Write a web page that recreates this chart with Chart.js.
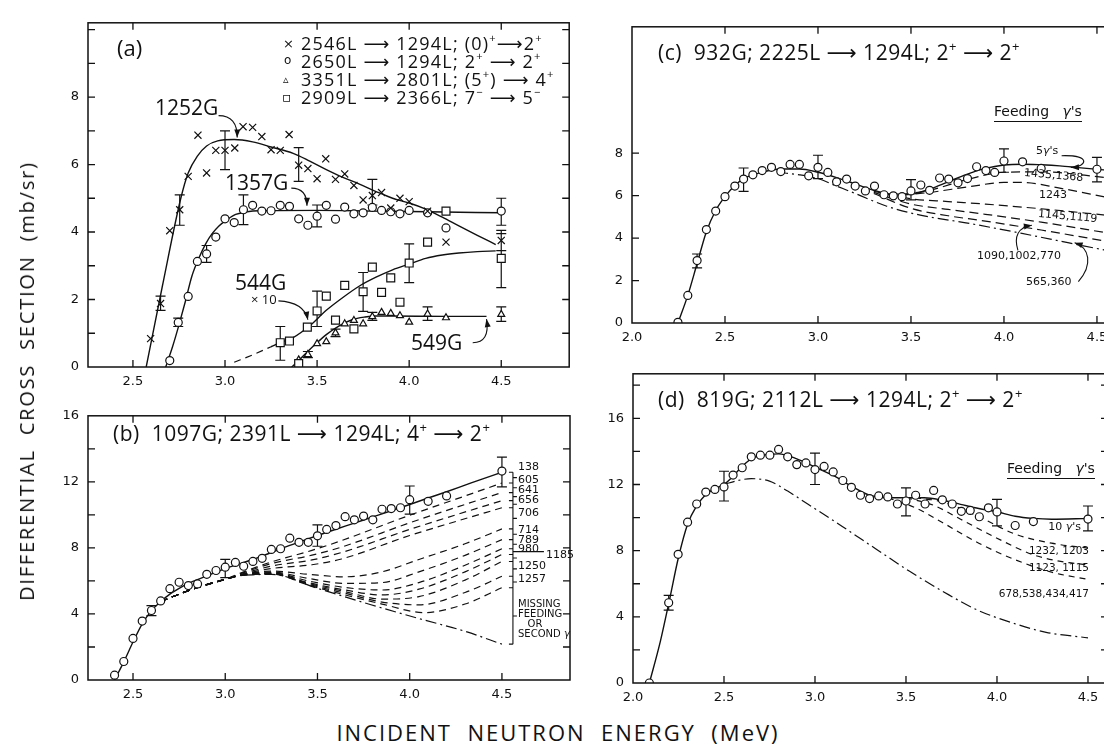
<!DOCTYPE html>
<html>
<head>
<meta charset="utf-8">
<script src="https://cdn.jsdelivr.net/npm/chart.js@4.4.0/dist/chart.umd.min.js"></script>
<style>
body{margin:0;width:1104px;height:744px;overflow:hidden;background:#fff;position:relative;font-family:"DejaVu Sans",sans-serif;color:#111}
canvas{position:absolute}
.t{position:absolute;white-space:nowrap;line-height:1;transform:translateY(-50%)}
.t sup{font-size:62%;vertical-align:top;position:relative;top:-0.15em}
.ttl{font-family:"Open Sans","DejaVu Sans",sans-serif}
.r{transform:translate(-100%,-50%)}
</style>
</head>
<body>
<script>
const INK = "#111";

// ---- panel (a) : measured points ----
const aCross = [[2.596,0.84],[2.65,1.88],[2.70,4.04],[2.754,4.66],[2.80,5.65],[2.853,6.87],[2.90,5.75],[2.95,6.42],[3.00,6.42],[3.053,6.49],[3.098,7.12],[3.15,7.10],[3.20,6.83],[3.25,6.44],[3.30,6.42],[3.348,6.89],[3.40,5.98],[3.45,5.88],[3.50,5.58],[3.547,6.17],[3.60,5.56],[3.65,5.72],[3.70,5.38],[3.75,4.95],[3.80,5.08],[3.85,5.17],[3.90,4.71],[3.95,5.00],[4.00,4.90],[4.10,4.62],[4.20,3.70],[4.50,3.75]];
const aCircle = [[2.70,0.19],[2.746,1.32],[2.80,2.09],[2.85,3.13],[2.90,3.35],[2.95,3.85],[3.00,4.39],[3.05,4.28],[3.10,4.66],[3.15,4.79],[3.20,4.62],[3.25,4.63],[3.30,4.79],[3.35,4.76],[3.40,4.39],[3.45,4.20],[3.50,4.47],[3.55,4.79],[3.60,4.38],[3.65,4.74],[3.70,4.54],[3.75,4.57],[3.80,4.73],[3.85,4.64],[3.90,4.60],[3.95,4.54],[4.00,4.64],[4.10,4.57],[4.20,4.12],[4.50,4.62]];
const aSquare = [[3.30,0.72],[3.35,0.77],[3.40,0.10],[3.447,1.18],[3.50,1.66],[3.55,2.10],[3.60,1.39],[3.65,2.42],[3.70,1.13],[3.75,2.23],[3.80,2.96],[3.85,2.21],[3.90,2.64],[3.95,1.92],[4.00,3.08],[4.10,3.70],[4.20,4.62],[4.50,3.22]];
const aTri = [[3.40,0.21],[3.45,0.37],[3.50,0.69],[3.55,0.75],[3.60,1.01],[3.65,1.28],[3.70,1.38],[3.75,1.28],[3.80,1.49],[3.85,1.62],[3.90,1.59],[3.95,1.52],[4.00,1.33],[4.10,1.57],[4.20,1.46],[4.50,1.56]];
const aErrors = [[2.65,1.68,2.10],[2.754,4.20,5.10],[3.00,5.85,7.00],[3.40,5.50,6.50],[3.80,4.80,5.56],[4.50,3.45,4.05],
  [2.746,1.20,1.45],[2.90,3.10,3.60],[3.10,4.22,5.10],[3.50,4.15,4.80],[4.50,4.20,5.00],
  [3.30,0.20,1.20],[3.50,1.20,2.25],[3.75,1.65,2.80],[4.00,2.50,3.65],[4.50,2.35,3.95],
  [3.45,0.28,0.46],[3.60,0.90,1.12],[3.80,1.38,1.62],[4.10,1.38,1.78],[4.50,1.35,1.78]];
// fitted curves
const a1252 = [[2.572,0],[2.66,2.4],[2.76,5.0],[2.80,5.75],[2.85,6.25],[2.90,6.55],[2.96,6.70],[3.05,6.74],[3.15,6.67],[3.25,6.52],[3.37,6.33],[3.46,6.10],[3.55,5.85],[3.64,5.62],[3.73,5.42],[3.82,5.20],[3.91,5.00],[4.00,4.86],[4.09,4.68],[4.18,4.44],[4.27,4.18],[4.37,3.90],[4.47,3.63]];
const a1357 = [[2.678,0],[2.715,0.6],[2.75,1.25],[2.785,1.95],[2.82,2.69],[2.86,3.25],[2.895,3.65],[2.93,3.95],[2.967,4.18],[3.01,4.36],[3.058,4.52],[3.12,4.60],[3.185,4.63],[3.5,4.64],[3.8,4.62],[4.1,4.60],[4.5,4.57]];
const a544Dash = [[3.05,0.14],[3.15,0.36],[3.25,0.60]];
const a544 = [[3.25,0.60],[3.30,0.72],[3.37,0.87],[3.46,1.22],[3.55,1.68],[3.64,2.06],[3.73,2.40],[3.82,2.66],[3.91,2.88],[4.00,3.05],[4.09,3.22],[4.18,3.32],[4.27,3.38],[4.37,3.42],[4.47,3.44]];
const a549 = [[3.362,0],[3.42,0.30],[3.48,0.62],[3.55,0.96],[3.62,1.22],[3.69,1.40],[3.76,1.48],[3.82,1.51],[3.90,1.51],[4.20,1.50],[4.42,1.50]];

// ---- panel (b) ----
const bCircle = [[2.40,0.29],[2.45,1.12],[2.50,2.52],[2.55,3.57],[2.60,4.21],[2.65,4.79],[2.70,5.53],[2.75,5.92],[2.80,5.72],[2.85,5.82],[2.90,6.40],[2.95,6.63],[3.00,6.83],[3.055,7.12],[3.10,6.89],[3.15,7.18],[3.20,7.37],[3.25,7.91],[3.30,7.95],[3.35,8.59],[3.40,8.34],[3.45,8.34],[3.50,8.73],[3.55,9.12],[3.60,9.35],[3.65,9.89],[3.70,9.70],[3.75,9.93],[3.80,9.70],[3.85,10.34],[3.90,10.38],[3.95,10.43],[4.00,10.92],[4.10,10.82],[4.20,11.15],[4.50,12.65]];
const bErrors = [[2.60,3.90,4.50],[3.00,6.20,7.30],[3.50,8.10,9.40],[4.00,10.05,11.75],[4.50,11.70,13.50]];
const bSolid = [[2.40,0],[2.45,1.1],[2.50,2.3],[2.55,3.4],[2.60,4.2],[2.65,4.75],[2.70,5.2],[2.75,5.55],[2.80,5.85],[2.90,6.3],[3.00,6.75],[3.10,7.12],[3.20,7.5],[3.30,7.95],[3.40,8.35],[3.50,8.75],[3.60,9.13],[3.70,9.5],[3.80,9.88],[3.90,10.25],[4.00,10.63],[4.10,11.02],[4.20,11.4],[4.30,11.8],[4.40,12.2],[4.50,12.58]];
const bStem = [[2.65,4.75],[2.75,5.2],[2.85,5.6],[3.00,6.1]];
const bUpper = [
  [[3.10,6.55],[3.25,7.15],[3.47,7.85],[3.63,8.44],[4.00,9.98],[4.25,10.95],[4.50,11.93]],
  [[3.10,6.50],[3.25,7.05],[3.47,7.56],[3.63,8.05],[4.00,9.52],[4.25,10.45],[4.50,11.35]],
  [[3.10,6.45],[3.25,6.90],[3.47,7.27],[3.63,7.72],[4.00,9.12],[4.25,10.00],[4.50,10.86]],
  [[3.10,6.42],[3.25,6.75],[3.47,6.98],[3.63,7.33],[4.00,8.75],[4.25,9.60],[4.50,10.43]]
];
const bLower = [
  [[3.10,6.40],[3.25,6.60],[3.45,6.40],[3.65,6.25],[3.85,6.55],[4.05,7.30],[4.30,8.25],[4.50,9.15]],
  [[3.10,6.40],[3.25,6.55],[3.45,6.15],[3.65,5.85],[3.85,5.90],[4.05,6.55],[4.30,7.55],[4.50,8.50]],
  [[3.10,6.38],[3.25,6.50],[3.45,6.00],[3.65,5.60],[3.85,5.45],[4.05,5.90],[4.30,6.95],[4.50,7.95]],
  [[3.10,6.38],[3.25,6.48],[3.45,5.90],[3.65,5.45],[3.85,5.15],[4.05,5.50],[4.30,6.55],[4.50,7.60]],
  [[3.10,6.37],[3.25,6.45],[3.45,5.85],[3.65,5.35],[3.85,4.90],[4.05,5.05],[4.30,6.05],[4.50,7.18]],
  [[3.10,6.36],[3.25,6.43],[3.45,5.80],[3.65,5.25],[3.85,4.72],[4.05,4.55],[4.30,5.30],[4.50,6.28]],
  [[3.10,6.35],[3.25,6.42],[3.45,5.75],[3.65,5.15],[3.85,4.60],[4.08,4.08],[4.30,4.60],[4.50,5.59]]
];
const bMissing = [[3.10,6.35],[3.25,6.40],[3.50,5.55],[3.79,4.56],[4.06,3.69],[4.30,2.95],[4.50,2.17]];

// ---- panel (c) ----
const cCircle = [[2.247,0.03],[2.30,1.30],[2.35,2.94],[2.40,4.40],[2.45,5.27],[2.50,5.95],[2.553,6.45],[2.60,6.78],[2.65,6.98],[2.70,7.18],[2.75,7.33],[2.80,7.13],[2.85,7.47],[2.90,7.47],[2.95,6.93],[3.00,7.33],[3.053,7.09],[3.10,6.65],[3.154,6.78],[3.20,6.45],[3.255,6.22],[3.304,6.45],[3.355,6.04],[3.405,5.99],[3.452,5.95],[3.50,6.22],[3.553,6.50],[3.60,6.25],[3.654,6.83],[3.703,6.78],[3.753,6.60],[3.804,6.80],[3.853,7.36],[3.903,7.18],[3.95,7.09],[4.00,7.63],[4.10,7.59],[4.20,7.28],[4.50,7.24]];
const cErrors = [[2.35,2.60,3.25],[2.60,6.20,7.30],[3.00,6.80,7.90],[3.50,5.80,6.75],[4.00,7.10,8.20],[4.50,6.65,7.80]];
const cSolid = [[2.247,0],[2.30,1.3],[2.35,2.8],[2.40,4.3],[2.45,5.3],[2.50,5.95],[2.55,6.45],[2.60,6.8],[2.70,7.1],[2.80,7.25],[2.90,7.25],[3.00,7.1],[3.10,6.85],[3.20,6.55],[3.30,6.25],[3.40,6.07],[3.50,6.08],[3.60,6.3],[3.70,6.65],[3.80,7.0],[3.90,7.28],[4.00,7.44],[4.10,7.48],[4.20,7.45],[4.30,7.4],[4.40,7.32],[4.55,7.2]];
const cFeed = [
  [[3.45,6.05],[3.60,6.25],[3.80,6.75],[4.00,7.10],[4.20,7.12],[4.55,6.85]],
  [[3.45,6.02],[3.60,6.15],[3.82,6.43],[4.00,6.62],[4.10,6.62],[4.30,6.35],[4.55,5.92]],
  [[3.30,6.20],[3.50,5.85],[3.70,5.72],[3.90,5.60],[4.20,5.38],[4.55,5.08]],
  [[3.30,6.15],[3.50,5.60],[3.70,5.35],[3.90,5.12],[4.20,4.75],[4.55,4.25]],
  [[3.30,6.10],[3.50,5.40],[3.70,5.05],[3.90,4.80],[4.20,4.38],[4.55,3.85]]
];
const cMissing = [[2.78,7.10],[2.90,6.98],[3.00,6.80],[3.10,6.45],[3.20,6.10],[3.37,5.50],[3.55,5.08],[3.82,4.68],[4.09,4.23],[4.35,3.77],[4.55,3.42]];

// ---- panel (d) ----
const dCircle = [[2.09,0],[2.196,4.85],[2.248,7.78],[2.30,9.72],[2.35,10.82],[2.40,11.54],[2.45,11.70],[2.50,11.85],[2.55,12.57],[2.60,13.01],[2.65,13.67],[2.70,13.77],[2.752,13.77],[2.80,14.12],[2.85,13.67],[2.90,13.20],[2.95,13.30],[3.00,12.90],[3.05,13.09],[3.10,12.76],[3.153,12.24],[3.20,11.83],[3.25,11.35],[3.30,11.15],[3.35,11.31],[3.40,11.25],[3.453,10.82],[3.50,11.00],[3.553,11.35],[3.605,10.82],[3.652,11.64],[3.70,11.07],[3.754,10.82],[3.804,10.38],[3.853,10.43],[3.903,10.05],[3.953,10.59],[4.00,10.34],[4.10,9.52],[4.20,9.76],[4.50,9.91]];
const dErrors = [[2.196,4.40,5.30],[2.50,11.00,12.80],[3.00,12.00,13.90],[3.50,10.10,11.80],[4.00,9.50,11.10],[4.50,9.20,10.70]];
const dSolid = [[2.09,0],[2.15,2.5],[2.20,5.0],[2.25,7.6],[2.30,9.6],[2.35,10.7],[2.40,11.4],[2.45,11.75],[2.50,12.0],[2.55,12.5],[2.60,13.1],[2.65,13.55],[2.70,13.75],[2.80,13.85],[2.90,13.55],[3.00,13.05],[3.10,12.55],[3.20,11.9],[3.30,11.35],[3.40,11.2],[3.50,11.2],[3.60,11.2],[3.70,11.05],[3.80,10.8],[3.90,10.55],[4.00,10.35],[4.10,10.08],[4.20,9.95],[4.30,9.9],[4.50,9.95]];
const dFeed = [
  [[3.55,11.2],[3.70,10.95],[3.90,10.05],[4.10,9.0],[4.30,8.45],[4.50,8.15]],
  [[3.50,11.2],[3.65,10.75],[3.80,9.9],[4.00,8.75],[4.20,7.75],[4.35,7.35],[4.50,7.14]],
  [[3.40,11.2],[3.55,10.6],[3.70,9.7],[3.90,8.45],[4.10,7.45],[4.30,6.7],[4.50,6.26]]
];
const dMissing = [[2.50,12.0],[2.58,12.25],[2.65,12.35],[2.75,12.2],[2.85,11.6],[2.96,10.82],[3.15,9.46],[3.335,8.1],[3.52,6.75],[3.71,5.49],[3.89,4.42],[4.08,3.65],[4.27,3.06],[4.50,2.73]];

// ---- ticks ----
const abXTicks = [2.5,3.0,3.5,4.0,4.5];
const cdXTicks = [2.0,2.5,3.0,3.5,4.0,4.5];
const aYTicks = [0,1,2,3,4,5,6,7,8,9,10], aYLabels = [0,2,4,6,8];
const bYTicks = [0,2,4,6,8,10,12,14,16], bYLabels = [0,4,8,12,16];
const cYTicks = [0,2,4,6,8], cYLabels = [0,2,4,6,8];
const dYTicks = [0,2,4,6,8,10,12,14,16,18], dYLabels = [0,4,8,12,16];

const xy = a => a.map(([x, y]) => ({x, y}));
const pts = (data, style, r) => ({data: xy(data), pointStyle: style, pointRadius: r, borderColor: INK, backgroundColor: "#fff", borderWidth: 1.2, showLine: false, order: 0});
const line = (data, dash) => ({data: xy(data), showLine: true, pointRadius: 0, borderColor: INK, borderWidth: dash ? 1.2 : 1.4, borderDash: dash || [], cubicInterpolationMode: "monotone", fill: false, order: 1});
const DASH = [7, 5], DASHDOT = [11, 4, 2, 4];

function curveArrow(chart, pts) {
  const ctx = chart.ctx, X = chart.scales.x, Y = chart.scales.y;
  const p = pts.map(([e, v]) => [X.getPixelForValue(e), Y.getPixelForValue(v)]);
  ctx.beginPath(); ctx.moveTo(p[0][0], p[0][1]);
  if (p.length === 3) ctx.quadraticCurveTo(p[1][0], p[1][1], p[2][0], p[2][1]);
  else ctx.bezierCurveTo(p[1][0], p[1][1], p[2][0], p[2][1], p[3][0], p[3][1]);
  ctx.stroke();
  const tip = p[p.length - 1], prev = p[p.length - 2];
  const a = Math.atan2(tip[1] - prev[1], tip[0] - prev[0]), c = Math.cos(a), s = Math.sin(a);
  ctx.beginPath(); ctx.moveTo(tip[0], tip[1]);
  ctx.lineTo(tip[0] - 8 * c + 3 * s, tip[1] - 8 * s - 3 * c);
  ctx.lineTo(tip[0] - 8 * c - 3 * s, tip[1] - 8 * s + 3 * c);
  ctx.closePath(); ctx.fill();
}

function framePlugin(errors, extra) {
  return {
    id: "frame",
    beforeDatasetsDraw(chart) {
      const ctx = chart.ctx, X = chart.scales.x, Y = chart.scales.y;
      ctx.save(); ctx.strokeStyle = INK; ctx.lineWidth = 1.2;
      ctx.beginPath();
      errors.forEach(([e, lo, hi]) => {
        const px = X.getPixelForValue(e), y0 = Y.getPixelForValue(lo), y1 = Y.getPixelForValue(hi);
        ctx.moveTo(px, y0); ctx.lineTo(px, y1);
        ctx.moveTo(px - 5, y0); ctx.lineTo(px + 5, y0);
        ctx.moveTo(px - 5, y1); ctx.lineTo(px + 5, y1);
      });
      ctx.stroke(); ctx.restore();
    },
    afterDatasetsDraw(chart) {
      const ctx = chart.ctx, a = chart.chartArea, X = chart.scales.x, Y = chart.scales.y;
      ctx.save(); ctx.strokeStyle = INK; ctx.fillStyle = INK; ctx.lineWidth = 1.5;
      ctx.strokeRect(a.left, a.top, a.right - a.left, a.bottom - a.top);
      ctx.lineWidth = 1.3; ctx.beginPath();
      X.ticks.forEach(t => {
        const px = X.getPixelForValue(t.value);
        if (px < a.left + 2 || px > a.right - 2) return;
        ctx.moveTo(px, a.bottom); ctx.lineTo(px, a.bottom - 7);
        ctx.moveTo(px, a.top); ctx.lineTo(px, a.top + 7);
      });
      Y.ticks.forEach(t => {
        const py = Y.getPixelForValue(t.value);
        if (py > a.bottom - 2 || py < a.top + 2) return;
        ctx.moveTo(a.left, py); ctx.lineTo(a.left + 7, py);
        ctx.moveTo(a.right, py); ctx.lineTo(a.right - 7, py);
      });
      ctx.stroke();
      ctx.lineWidth = 1.1;
      if (extra) extra(chart, ctx);
      ctx.restore();
    }
  };
}

const YW = 50, XH = 30, PAD = 6;
function panel(box, xr, yr, xTicks, yTicks, yLabels, datasets, errors, extra) {
  const cv = document.createElement("canvas");
  cv.width = box.r - box.l + YW + PAD; cv.height = box.b - box.t + PAD + XH;
  cv.style.left = (box.l - YW) + "px"; cv.style.top = (box.t - PAD) + "px";
  document.body.appendChild(cv);
  const font = {family: "'DejaVu Sans', sans-serif", size: 13};
  return new Chart(cv, {
    type: "scatter",
    data: {datasets},
    options: {
      responsive: false, animation: false, events: [],
      layout: {padding: {top: PAD, right: PAD, left: 0, bottom: 0}},
      plugins: {legend: {display: false}, tooltip: {enabled: false}},
      scales: {
        x: {type: "linear", min: xr[0], max: xr[1],
          afterFit: s => { s.height = XH; },
          afterBuildTicks: s => { s.ticks = xTicks.map(v => ({value: v})); },
          grid: {display: false, drawTicks: false}, border: {display: false},
          ticks: {autoSkip: false, maxRotation: 0, padding: 7, color: INK, font, callback: v => v.toFixed(1)}},
        y: {type: "linear", min: yr[0], max: yr[1],
          afterFit: s => { s.width = YW; },
          afterBuildTicks: s => { s.ticks = yTicks.map(v => ({value: v})); },
          grid: {display: false, drawTicks: false}, border: {display: false},
          ticks: {autoSkip: false, padding: 9, color: INK, font, callback: v => yLabels.includes(v) ? String(v) : ""}}
      }
    },
    plugins: [framePlugin(errors, extra)]
  });
}

// (a)
panel({l: 88, t: 12, r: 570, b: 367}, [2.256, 4.869], [0, 10.2], abXTicks, aYTicks, aYLabels, [
  pts(aCross, "crossRot", 5), pts(aCircle, "circle", 4), pts(aSquare, "rect", 5.6), pts(aTri, "triangle", 4),
  line(a1252), line(a1357), line(a544Dash, DASH), line(a544), line(a549)
], aErrors, chart => {
  curveArrow(chart, [[2.965, 7.45], [3.068, 7.45], [3.066, 6.80]]);
  curveArrow(chart, [[3.36, 5.30], [3.445, 5.30], [3.445, 4.78]]);
  curveArrow(chart, [[3.29, 1.96], [3.43, 1.92], [3.45, 1.40]]);
  curveArrow(chart, [[4.345, 0.72], [4.44, 0.72], [4.42, 1.42]]);
});

// (b)
const bAll = [bSolid, ...bUpper, ...bLower, bMissing];
const bEnds = bAll.map(a => a[a.length - 1][1]);
panel({l: 88, t: 405, r: 570, b: 680}, [2.256, 4.869], [0, 16], abXTicks, bYTicks, bYLabels, [
  pts(bCircle, "circle", 4), line(bSolid),
  ...bUpper.map(a => line(bStem.concat(a), DASH)),
  ...bLower.map(a => line(bStem.concat(a), DASH)),
  line(bStem, DASH), line(bMissing, DASHDOT)
], bErrors, (chart, ctx) => {
  const X = chart.scales.x, Y = chart.scales.y, bx = X.getPixelForValue(4.5) + 11;
  ctx.beginPath();
  ctx.moveTo(bx, Y.getPixelForValue(bEnds[0])); ctx.lineTo(bx, Y.getPixelForValue(bEnds[bEnds.length - 1]));
  bEnds.forEach(v => { const py = Y.getPixelForValue(v); ctx.moveTo(bx - 4, py); ctx.lineTo(bx, py); });
  for (let i = 0; i < bEnds.length - 1; i++) {
    const py = Y.getPixelForValue((bEnds[i] + bEnds[i + 1]) / 2);
    ctx.moveTo(bx, py); ctx.lineTo(bx + 4, py);
  }
  const p1185 = Y.getPixelForValue((bEnds[7] + bEnds[8]) / 2);
  ctx.moveTo(bx, p1185); ctx.lineTo(bx + 31, p1185);
  ctx.stroke();
});

// (c)
panel({l: 632, t: 16, r: 1115, b: 323}, [2.0, 4.597], [0, 13.95], cdXTicks, cYTicks, cYLabels, [
  pts(cCircle, "circle", 4), line(cSolid), ...cFeed.map(a => line(a, [9, 5])), line(cMissing, DASHDOT)
], cErrors, chart => {
  curveArrow(chart, [[4.31, 7.88], [4.47, 7.92], [4.45, 7.36], [4.36, 7.32]]);
  curveArrow(chart, [[4.075, 3.42], [4.04, 4.45], [4.15, 4.60]]);
  curveArrow(chart, [[4.40, 1.95], [4.48, 2.75], [4.46, 3.55], [4.38, 3.78]]);
});

// (d)
panel({l: 633, t: 363, r: 1108, b: 683}, [2.0, 4.61], [0, 18.69], cdXTicks, dYTicks, dYLabels, [
  pts(dCircle, "circle", 4), line(dSolid), ...dFeed.map(a => line(a, [6, 5])), line(dMissing, DASHDOT)
], dErrors, null);

// ---- text ----
function txt(html, x, y, size, extra) {
  const d = document.createElement("div");
  d.className = "t" + (extra && extra.cls ? " " + extra.cls : "");
  d.innerHTML = html;
  d.style.left = x + "px"; d.style.top = y + "px"; d.style.fontSize = size + "px";
  if (extra && extra.css) Object.assign(d.style, extra.css);
  document.body.appendChild(d);
  return d;
}
const ar = "&#10230;";
const tl = {cls: "ttl", css: {letterSpacing: "1.2px"}};
txt("(a)", 117, 47, 22, {cls: "ttl"});
txt("&#215;", 283, 43, 13); txt("o", 284, 60, 12); txt("&#9653;", 283, 79, 11); txt("&#9643;", 282, 97, 14);
txt("2546L " + ar + " 1294L; (0)<sup>+</sup>" + ar + "2<sup>+</sup>", 301, 43, 18, tl);
txt("2650L " + ar + " 1294L; 2<sup>+</sup> " + ar + " 2<sup>+</sup>", 301, 61, 18, tl);
txt("3351L " + ar + " 2801L; (5<sup>+</sup>) " + ar + " 4<sup>+</sup>", 301, 79, 18, tl);
txt("2909L " + ar + " 2366L; 7<sup>&#8722;</sup> " + ar + " 5<sup>&#8722;</sup>", 301, 97, 18, tl);
txt("1252G", 155, 107, 21, {cls: "ttl"});
txt("1357G", 225, 182, 21, {cls: "ttl"});
txt("544G", 235, 282, 21, {cls: "ttl"});
txt("&#215; 10", 251, 299, 13, {cls: "ttl"});
txt("549G", 411, 342, 21, {cls: "ttl"});

const tt = {cls: "ttl", css: {letterSpacing: "0.5px"}};
txt("(b)&nbsp; 1097G; 2391L " + ar + " 1294L; 4<sup>+</sup> " + ar + " 2<sup>+</sup>", 113, 433, 21, tt);
const bLabels = [["138", 466], ["605", 479], ["641", 489], ["656", 499], ["706", 512], ["714", 529], ["789", 539], ["980", 548], ["1250", 565], ["1257", 578]];
bLabels.forEach(([s, y]) => txt(s, 518, y, 11));
txt("1185", 546, 554, 11);
txt("MISSING<br>FEEDING<br>&nbsp;&nbsp;&nbsp;OR<br>SECOND <i>&#947;</i>", 518, 619, 10, {css: {lineHeight: "10px"}});

txt("(c)&nbsp; 932G; 2225L " + ar + " 1294L; 2<sup>+</sup> " + ar + " 2<sup>+</sup>", 658, 52, 21, tt);
txt("Feeding&nbsp;&nbsp; <i>&#947;</i>'s", 994, 113, 14, {css: {borderBottom: "1.3px solid #111", paddingBottom: "3px"}});
txt("5<i>&#947;</i>'s", 1036, 150, 11);
txt("1435,1368", 1024, 175, 11, {css: {transform: "translateY(-50%) rotate(5deg)"}});
txt("1243", 1039, 194, 11);
txt("1145,1119", 1038, 216, 11, {css: {transform: "translateY(-50%) rotate(5deg)"}});
txt("1090,1002,770", 977, 255, 11);
txt("565,360", 1026, 281, 11);

txt("(d)&nbsp; 819G; 2112L " + ar + " 1294L; 2<sup>+</sup> " + ar + " 2<sup>+</sup>", 658, 399, 21, tt);
txt("Feeding&nbsp;&nbsp; <i>&#947;</i>'s", 1007, 470, 14, {css: {borderBottom: "1.3px solid #111", paddingBottom: "3px"}});
txt("10 <i>&#947;</i>'s", 1081, 526, 11, {cls: "r"});
txt("1232, 1203", 1089, 550, 10.5, {cls: "r"});
txt("1123, 1115", 1089, 567, 10.5, {cls: "r"});
txt("678,538,434,417", 1089, 593, 10.5, {cls: "r"});

txt("DIFFERENTIAL&nbsp; CROSS&nbsp; SECTION&nbsp; (mb/sr)", 27, 381, 20, {cls: "ttl", css: {transform: "translate(-50%,-50%) rotate(-90deg)", letterSpacing: "1.8px"}});
txt("INCIDENT&nbsp; NEUTRON&nbsp; ENERGY&nbsp; (MeV)", 558, 732, 22, {cls: "ttl", css: {transform: "translate(-50%,-50%)", letterSpacing: "2px"}});
</script>
</body>
</html>
